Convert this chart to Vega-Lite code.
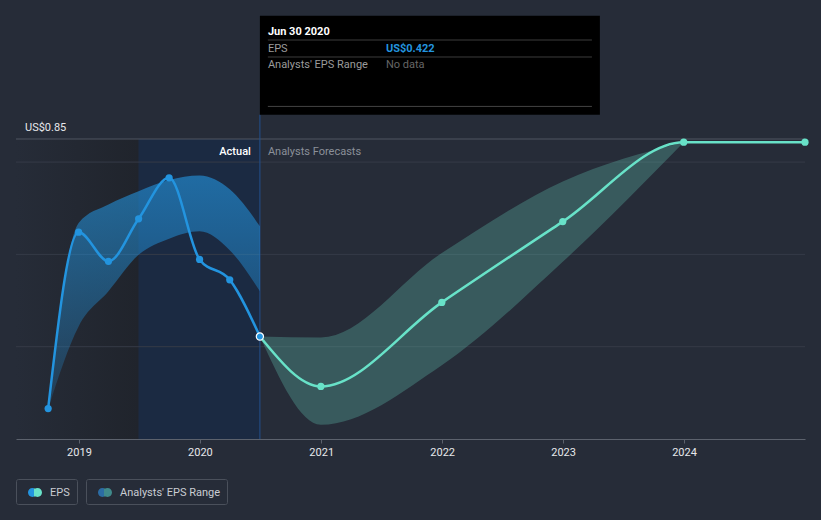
{
  "$schema": "https://vega.github.io/schema/vega-lite/v6.json",
  "width": 789,
  "height": 300,
  "autosize": {"type": "none"},
  "padding": {"left": 16, "top": 139, "right": 16, "bottom": 81},
  "background": "#262c38",
  "config": {
    "view": {"stroke": null},
    "font": "Roboto",
    "axisX": {
      "domainColor": "#5c626d", "tickColor": "#5c626d", "tickSize": 4, "grid": false,
      "labelColor": "#e6e8eb", "labelFontSize": 11, "labelFont": "Roboto",
      "labelBaseline": "alphabetic", "labelPadding": 12.7, "format": "%Y", "title": null
    },
    "axisY": {
      "domain": false, "ticks": false, "grid": false,
      "labelColor": "#e6e8eb", "labelFontSize": 11, "labelFont": "Roboto",
      "labelAlign": "left", "labelBaseline": "alphabetic", "labelPadding": -8.5, "labelOffset": -8.6,
      "title": null
    },
    "legend": {"labelFont": "Roboto", "labelFontSize": 11, "labelColor": "#c9cdd3"}
  },
  "data": {"values": [{}]},
  "datasets": {
    "eps": [
      {"date": "2018-09-30", "eps": 0.266, "phase": "Actual"},
      {"date": "2018-12-31", "eps": 0.648, "phase": "Actual"},
      {"date": "2019-03-31", "eps": 0.585, "phase": "Actual"},
      {"date": "2019-06-30", "eps": 0.677, "phase": "Actual"},
      {"date": "2019-09-30", "eps": 0.766, "phase": "Actual"},
      {"date": "2019-12-31", "eps": 0.589, "phase": "Actual"},
      {"date": "2020-03-31", "eps": 0.545, "phase": "Actual"},
      {"date": "2020-06-30", "eps": 0.422, "phase": "Actual"},
      {"date": "2020-06-30", "eps": 0.422, "phase": "Forecast"},
      {"date": "2020-12-31", "eps": 0.314, "phase": "Forecast"},
      {"date": "2021-12-31", "eps": 0.496, "phase": "Forecast"},
      {"date": "2022-12-31", "eps": 0.671, "phase": "Forecast"},
      {"date": "2023-12-31", "eps": 0.843, "phase": "Forecast"},
      {"date": "2024-12-31", "eps": 0.843, "phase": "Forecast"}
    ],
    "bands": [
      {"date": "2018-09-30", "lo": 0.266, "hi": 0.266, "phase": "Actual"},
      {"date": "2018-12-31", "lo": 0.444, "hi": 0.668, "phase": "Actual"},
      {"date": "2019-03-31", "lo": 0.520, "hi": 0.708, "phase": "Actual"},
      {"date": "2019-06-30", "lo": 0.599, "hi": 0.737, "phase": "Actual"},
      {"date": "2019-09-30", "lo": 0.634, "hi": 0.761, "phase": "Actual"},
      {"date": "2019-12-31", "lo": 0.650, "hi": 0.771, "phase": "Actual"},
      {"date": "2020-03-31", "lo": 0.609, "hi": 0.741, "phase": "Actual"},
      {"date": "2020-06-30", "lo": 0.520, "hi": 0.661, "phase": "Actual"},
      {"date": "2020-06-30", "lo": 0.422, "hi": 0.422, "phase": "Forecast"},
      {"date": "2020-12-31", "lo": 0.231, "hi": 0.420, "phase": "Forecast"},
      {"date": "2021-12-31", "lo": 0.360, "hi": 0.603, "phase": "Forecast"},
      {"date": "2022-12-31", "lo": 0.584, "hi": 0.758, "phase": "Forecast"},
      {"date": "2023-12-31", "lo": 0.843, "hi": 0.843, "phase": "Forecast"}
    ],
    "grid": [{"g": 0.4}, {"g": 0.6}, {"g": 0.8}, {"g": 0.85}]
  },
  "resolve": {"scale": {"shape": "independent"}, "legend": {"shape": "independent"}},
  "layer": [
    {
      "mark": {"type": "rect", "fill": {"gradient": "linear", "x1": 0, "y1": 0, "x2": 1, "y2": 0,
        "stops": [{"offset": 0, "color": "#262c38"}, {"offset": 1, "color": "#20242c"}]}},
      "encoding": {
        "x": {"datum": {"year": 2018, "month": 6, "date": 25, "utc": true}, "type": "temporal",
          "scale": {"type": "utc", "domain": [{"year": 2018, "month": 6, "date": 25, "utc": true}, {"year": 2024, "month": 12, "date": 31, "utc": true}]},
          "axis": {"title": null, "values": [
            {"year": 2019, "month": 1, "date": 1, "utc": true},
            {"year": 2020, "month": 1, "date": 1, "utc": true},
            {"year": 2021, "month": 1, "date": 1, "utc": true},
            {"year": 2022, "month": 1, "date": 1, "utc": true},
            {"year": 2023, "month": 1, "date": 1, "utc": true},
            {"year": 2024, "month": 1, "date": 1, "utc": true}]}},
        "x2": {"datum": {"year": 2019, "month": 6, "date": 30, "utc": true}},
        "y": {"datum": 0.2, "type": "quantitative", "scale": {"domain": [0.2, 0.85]},
          "axis": {"title": null, "values": [0.2, 0.85], "labelExpr": "'US$' + (datum.value == 0.2 ? '0.2' : '0.85')"}},
        "y2": {"datum": 0.85}
      }
    },
    {
      "mark": {"type": "rect", "fill": "#1b2a42"},
      "encoding": {
        "x": {"datum": {"year": 2019, "month": 6, "date": 30, "utc": true}, "type": "temporal"},
        "x2": {"datum": {"year": 2020, "month": 6, "date": 30, "utc": true}},
        "y": {"datum": 0.2, "type": "quantitative"},
        "y2": {"datum": 0.85}
      }
    },
    {
      "data": {"name": "grid"},
      "mark": {"type": "rule", "strokeWidth": 1},
      "encoding": {
        "y": {"field": "g", "type": "quantitative", "title": null},
        "color": {"condition": {"test": "datum.g == 0.85", "value": "#4e5460"}, "value": "#353b47"}
      }
    },
    {
      "mark": {"type": "rule", "color": "#22508c", "strokeWidth": 1},
      "encoding": {
        "x": {"datum": {"year": 2020, "month": 6, "date": 30, "utc": true}, "type": "temporal"},
        "y": {"datum": 0.2, "type": "quantitative"},
        "y2": {"datum": 0.9027}
      }
    },
    {
      "data": {"name": "bands"},
      "transform": [{"filter": "datum.phase == 'Actual'"}],
      "mark": {"type": "area", "interpolate": "monotone", "fill": {"gradient": "linear", "x1": 0, "y1": 0, "x2": 0, "y2": 1,
        "stops": [{"offset": 0, "color": "rgba(35,148,223,0.62)"}, {"offset": 1, "color": "rgba(35,148,223,0.18)"}]}},
      "encoding": {
        "x": {"field": "date", "type": "temporal", "title": null},
        "y": {"field": "hi", "type": "quantitative", "title": null},
        "y2": {"field": "lo"}
      }
    },
    {
      "data": {"name": "bands"},
      "transform": [{"filter": "datum.phase == 'Forecast'"}],
      "mark": {"type": "area", "interpolate": "monotone", "fill": "#6ee0c8", "fillOpacity": 0.26},
      "encoding": {
        "x": {"field": "date", "type": "temporal", "title": null},
        "y": {"field": "hi", "type": "quantitative", "title": null},
        "y2": {"field": "lo"}
      }
    },
    {
      "data": {"name": "eps"},
      "mark": {"type": "line", "interpolate": "monotone", "strokeWidth": 2.5},
      "encoding": {
        "x": {"field": "date", "type": "temporal", "title": null},
        "y": {"field": "eps", "type": "quantitative", "title": null},
        "color": {"field": "phase", "type": "nominal", "scale": {"domain": ["Forecast", "Actual"], "range": ["#68e2c8", "#2394df"]}, "legend": null},
        "order": {"field": "phase", "sort": "descending"}
      }
    },
    {
      "data": {"name": "eps"},
      "transform": [{"filter": "!(datum.phase == 'Forecast' && utcyear(datum.date) == 2020 && utcmonth(datum.date) == 5)"}],
      "mark": {"type": "point", "filled": true, "opacity": 1, "size": 52},
      "encoding": {
        "x": {"field": "date", "type": "temporal", "title": null},
        "y": {"field": "eps", "type": "quantitative", "title": null},
        "fill": {"field": "phase", "type": "nominal", "scale": {"domain": ["Actual", "Forecast"], "range": ["#2394df", "#68e2c8"]}, "legend": null},
        "stroke": {"condition": {"test": "datum.phase == 'Actual' && utcyear(datum.date) == 2020 && utcmonth(datum.date) == 5", "value": "#ffffff"}, "value": "transparent"},
        "strokeWidth": {"value": 1.2}
      }
    },
    {
      "data": {"values": []},
      "mark": {"type": "point", "filled": true, "opacity": 1, "strokeWidth": 0,
        "fill": {"gradient": "linear", "x1": 0, "y1": 0, "x2": 1, "y2": 0, "stops": [
          {"offset": 0, "color": "#2394df"}, {"offset": 0.4, "color": "#2394df"}, {"offset": 0.4, "color": "#68e2c8"}, {"offset": 1, "color": "#68e2c8"}]}},
      "encoding": {
        "shape": {"datum": "EPS", "type": "nominal",
          "scale": {"range": ["M -1 0 A 0.64 0.64 0 1 1 0.28 0 A 0.64 0.64 0 1 1 -1 0 Z M -0.28 0 A 0.64 0.64 0 1 1 1 0 A 0.64 0.64 0 1 1 -0.28 0 Z"]},
          "legend": {"title": null, "orient": "none", "legendX": 0, "legendY": 340,
            "strokeColor": "#4a505b", "cornerRadius": 2, "padding": 6.5, "symbolOffset": 5.5, "labelOffset": 8,
            "symbolSize": 196, "symbolStrokeWidth": 0, "labelExpr": "datum.label + '\u00a0\u00a0\u00a0'"}}
      }
    },
    {
      "data": {"values": []},
      "mark": {"type": "point", "filled": true, "opacity": 1, "strokeWidth": 0,
        "fill": {"gradient": "linear", "x1": 0, "y1": 0, "x2": 1, "y2": 0, "stops": [
          {"offset": 0, "color": "#2b6ca4"}, {"offset": 0.4, "color": "#2b6ca4"}, {"offset": 0.4, "color": "#3f8a8b"}, {"offset": 1, "color": "#3f8a8b"}]}},
      "encoding": {
        "shape": {"datum": "Analysts' EPS Range", "type": "nominal",
          "scale": {"range": ["M -1 0 A 0.64 0.64 0 1 1 0.28 0 A 0.64 0.64 0 1 1 -1 0 Z M -0.28 0 A 0.64 0.64 0 1 1 1 0 A 0.64 0.64 0 1 1 -0.28 0 Z"]},
          "legend": {"title": null, "orient": "none", "legendX": 70, "legendY": 340,
            "strokeColor": "#4a505b", "cornerRadius": 2, "padding": 6.5, "symbolOffset": 5.5, "labelOffset": 8,
            "symbolSize": 196, "symbolStrokeWidth": 0, "labelExpr": "datum.label + '\u00a0\u00a0\u00a0\u00a0'"}}
      }
    },
    {
      "mark": {"type": "text", "align": "right", "baseline": "alphabetic", "dx": -9, "fontSize": 11, "fontWeight": 500, "color": "#ffffff", "text": "Actual"},
      "encoding": {
        "x": {"datum": {"year": 2020, "month": 6, "date": 30, "utc": true}, "type": "temporal"},
        "y": {"datum": 0.816, "type": "quantitative"}
      }
    },
    {
      "mark": {"type": "text", "align": "left", "baseline": "alphabetic", "dx": 8, "fontSize": 11, "color": "#8b9099", "text": "Analysts Forecasts"},
      "encoding": {
        "x": {"datum": {"year": 2020, "month": 6, "date": 30, "utc": true}, "type": "temporal"},
        "y": {"datum": 0.816, "type": "quantitative"}
      }
    },
    {
      "mark": {"type": "rect", "fill": "#000000"},
      "encoding": {
        "x": {"datum": {"year": 2020, "month": 6, "date": 30, "utc": true}, "type": "temporal"},
        "x2": {"datum": {"year": 2023, "month": 4, "date": 22, "utc": true}},
        "y": {"datum": 0.9027, "type": "quantitative"},
        "y2": {"datum": 1.1172}
      }
    },
    {
      "mark": {"type": "text", "align": "left", "baseline": "alphabetic", "dx": 8, "fontSize": 11, "fontWeight": "bold", "color": "#ffffff", "text": "Jun 30 2020"},
      "encoding": {
        "x": {"datum": {"year": 2020, "month": 6, "date": 30, "utc": true}, "type": "temporal"},
        "y": {"datum": 1.076, "type": "quantitative"}
      }
    },
    {
      "mark": {"type": "rule", "color": "#3c3c3c", "strokeWidth": 1},
      "encoding": {
        "x": {"datum": {"year": 2020, "month": 7, "date": 24, "utc": true}, "type": "temporal"},
        "x2": {"datum": {"year": 2023, "month": 3, "date": 29, "utc": true}},
        "y": {"datum": 1.0645, "type": "quantitative"}
      }
    },
    {
      "mark": {"type": "text", "align": "left", "baseline": "alphabetic", "dx": 8, "fontSize": 11, "color": "#9b9b9b", "text": "EPS"},
      "encoding": {
        "x": {"datum": {"year": 2020, "month": 6, "date": 30, "utc": true}, "type": "temporal"},
        "y": {"datum": 1.0392, "type": "quantitative"}
      }
    },
    {
      "mark": {"type": "text", "align": "left", "baseline": "alphabetic", "dx": 126, "fontSize": 11, "fontWeight": "bold", "color": "#2394df", "text": "US$0.422"},
      "encoding": {
        "x": {"datum": {"year": 2020, "month": 6, "date": 30, "utc": true}, "type": "temporal"},
        "y": {"datum": 1.0392, "type": "quantitative"}
      }
    },
    {
      "mark": {"type": "rule", "color": "#3c3c3c", "strokeWidth": 1},
      "encoding": {
        "x": {"datum": {"year": 2020, "month": 7, "date": 24, "utc": true}, "type": "temporal"},
        "x2": {"datum": {"year": 2023, "month": 3, "date": 29, "utc": true}},
        "y": {"datum": 1.0277, "type": "quantitative"}
      }
    },
    {
      "mark": {"type": "text", "align": "left", "baseline": "alphabetic", "dx": 8, "fontSize": 11, "color": "#9b9b9b", "text": "Analysts' EPS Range"},
      "encoding": {
        "x": {"datum": {"year": 2020, "month": 6, "date": 30, "utc": true}, "type": "temporal"},
        "y": {"datum": 1.003, "type": "quantitative"}
      }
    },
    {
      "mark": {"type": "text", "align": "left", "baseline": "alphabetic", "dx": 126, "fontSize": 11, "color": "#666666", "text": "No data"},
      "encoding": {
        "x": {"datum": {"year": 2020, "month": 6, "date": 30, "utc": true}, "type": "temporal"},
        "y": {"datum": 1.003, "type": "quantitative"}
      }
    },
    {
      "mark": {"type": "rule", "color": "#444444", "strokeWidth": 1},
      "encoding": {
        "x": {"datum": {"year": 2020, "month": 7, "date": 24, "utc": true}, "type": "temporal"},
        "x2": {"datum": {"year": 2023, "month": 3, "date": 29, "utc": true}},
        "y": {"datum": 0.9206, "type": "quantitative"}
      }
    }
  ]
}
